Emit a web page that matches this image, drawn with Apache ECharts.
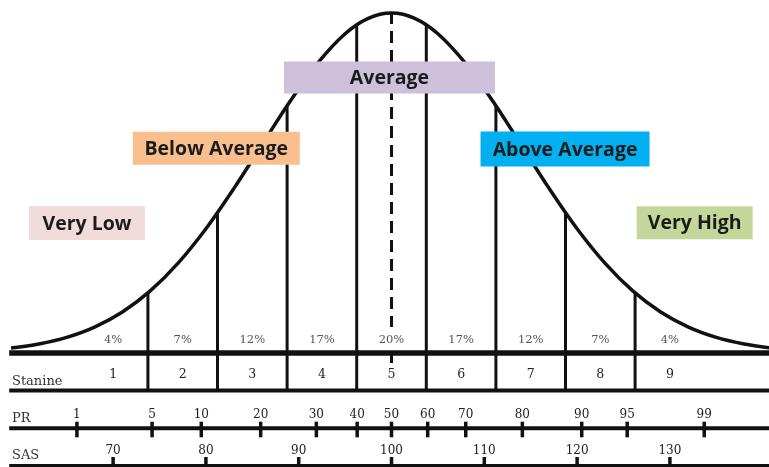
<!DOCTYPE html>
<html><head><meta charset="utf-8">
<script src="https://cdn.jsdelivr.net/npm/echarts@6/dist/echarts.min.js"></script>
<style>html,body{margin:0;padding:0;background:#fff}#c{width:769px;height:467px}</style>
</head><body><div id="c"></div>
<script>
// ---------------- data ----------------
// Bell curve: points on the SAS scale and their height above the baseline
const curveSAS = [59,62,65,68,71,74,77,80,83,86,89,92,95,97.5,100,102.5,105,108,111,114,117,120,123,126,129,132,135,138,141];
const curveHeight = [5,9,15.6,25.9,41,62.1,89.9,124.3,164.4,207.7,250.8,289.4,319.3,334.7,340,334.7,319.3,289.4,250.8,207.7,164.4,124.3,89.9,62.1,41,25.9,15.6,9,5];
// Stanine band edges (on SAS scale) and where each edge meets the curve
const stanineBounds = [73.75,81.25,88.75,96.25,103.75,111.25,118.75,126.25];
const stanineBoundTops = [60,140,247,328,328,247,140,60];
const stanines = ['1','2','3','4','5','6','7','8','9'];
const stanineCentres = [70,77.5,85,92.5,100,107.5,115,122.5,130];
const stanineShares = ['4%','7%','12%','17%','20%','17%','12%','7%','4%'];
const meanSAS = 100;
const peakHeight = 341;
// Percentile rank labels and where they sit on the SAS scale
const prLabels = ['1','5','10','20','30','40','50','60','70','80','90','95','99'];
const prOnSAS = [66.1,74.2,79.5,85.9,91.9,96.3,100,103.9,108,114.1,120.5,125.4,133.7];
// Standard age scores
const sasLabels = ['70','80','90','100','110','120','130'];
const sasValues = [70,80,90,100,110,120,130];
// Category boxes
const bands = ['Very Low','Below Average','Average','Above Average','Very High'];
const rowNames = ['Stanine','PR','SAS'];

// ---------------- layout / style ----------------
const L = {
  xMin: 57.81, xMax: 140.68, yMin: -114, yMax: 353,
  lineStart: 58.8, lineEnd: 141,
  rowY: [0, -37.5, -75.3, -113], rowW: [5.5, 4, 4, 4],
  shareY: 12.5, stanineY: -22, prLabelY: -62, sasLabelY: -98,
  rowLabelX: 59.1, rowLabelY: [-28.7, -66, -103],
  prTick: [-68.7, -84.3], sasTick: [-104, -114],
  meanDashEnd: 26, meanStub: [-2, -10],
  bandAnchors: [[67.19,130],[81.12,204.7],[99.78,275.5],[118.7,204],[132.67,130.3]],
  bandSizes: [[116,34],[167,33],[211,32],[169,35],[116,33]],
  bandColors: ['#f2dcdb','#fabf8f','#ccc0da','#00b0f0','#c4d79b']
};
const INK = '#111';

// rules: [x1, y1, x2, y2, width, dashed]
const rules = [];
L.rowY.forEach((y, i) => rules.push([L.lineStart, y, L.lineEnd, y, L.rowW[i], 0]));
stanineBounds.forEach((b, i) => rules.push([b, L.rowY[1], b, stanineBoundTops[i], 3, 0]));
rules.push([meanSAS, peakHeight, meanSAS, L.meanDashEnd, 3, 1]);
rules.push([meanSAS, L.meanStub[0], meanSAS, L.meanStub[1], 3, 0]);
prOnSAS.forEach(x => rules.push([x, L.prTick[0], x, L.prTick[1], 3.5, 0]));
sasValues.forEach(x => rules.push([x, L.sasTick[0], x, L.sasTick[1], 3.5, 0]));

// texts
const serif = '"DejaVu Serif", "Liberation Serif", serif';
const texts = [];
stanineShares.forEach((t, i) => texts.push({x: stanineCentres[i], y: L.shareY, t, size: 11.5, color: '#555', align: 'center'}));
stanines.forEach((t, i) => texts.push({x: stanineCentres[i], y: L.stanineY, t, size: 12.5, color: '#222', align: 'center'}));
prLabels.forEach((t, i) => texts.push({x: prOnSAS[i], y: L.prLabelY, t, size: 12, color: '#222', align: 'center'}));
sasLabels.forEach((t, i) => texts.push({x: sasValues[i], y: L.sasLabelY, t, size: 12, color: '#222', align: 'center'}));
rowNames.forEach((t, i) => texts.push({x: L.rowLabelX, y: L.rowLabelY[i], t, size: 13, color: '#333', align: 'left'}));

const chart = echarts.init(document.getElementById('c'), null, {renderer: 'canvas'});
chart.setOption({
  animation: false,
  backgroundColor: '#fff',
  grid: {left: 0, right: 0, top: 0, bottom: 0},
  xAxis: {type: 'value', min: L.xMin, max: L.xMax, show: false},
  yAxis: {type: 'value', min: L.yMin, max: L.yMax, show: false},
  series: [
    {
      type: 'line', z: 3, smooth: 0.35, showSymbol: false, silent: true,
      data: curveSAS.map((x, i) => [x, curveHeight[i]]),
      lineStyle: {color: INK, width: 3.5}
    },
    {
      type: 'custom', z: 4, silent: true,
      data: rules,
      renderItem: (params, api) => {
        const a = api.coord([api.value(0), api.value(1)]);
        const b = api.coord([api.value(2), api.value(3)]);
        return {type: 'line', shape: {x1: a[0], y1: a[1], x2: b[0], y2: b[1]},
          style: {stroke: INK, lineWidth: api.value(4), lineDash: api.value(5) ? [12, 7] : null}};
      }
    },
    {
      type: 'custom', z: 5, silent: true,
      data: texts.map(o => [o.x, o.y]),
      renderItem: (params, api) => {
        const o = texts[params.dataIndex];
        const p = api.coord([api.value(0), api.value(1)]);
        return {type: 'text', x: p[0], y: p[1],
          style: {text: o.t, fill: o.color, fontSize: o.size, fontFamily: serif,
            align: o.align, verticalAlign: 'middle'}};
      }
    },
    {
      type: 'custom', z: 10, silent: true,
      data: L.bandAnchors,
      renderItem: (params, api) => {
        const i = params.dataIndex;
        const p = api.coord([api.value(0), api.value(1)]);
        const [w, h] = L.bandSizes[i];
        return {type: 'group', children: [
          {type: 'rect', shape: {x: p[0] - w / 2, y: p[1] - h / 2, width: w, height: h},
            style: {fill: L.bandColors[i]}},
          {type: 'text', x: p[0], y: p[1] + 1,
            style: {text: bands[i], fill: '#1b1b1b', fontSize: 19.5, fontWeight: 700,
              fontFamily: '"Open Sans", sans-serif', align: 'center', verticalAlign: 'middle'}}
        ]};
      }
    }
  ]
});
</script></body></html>
